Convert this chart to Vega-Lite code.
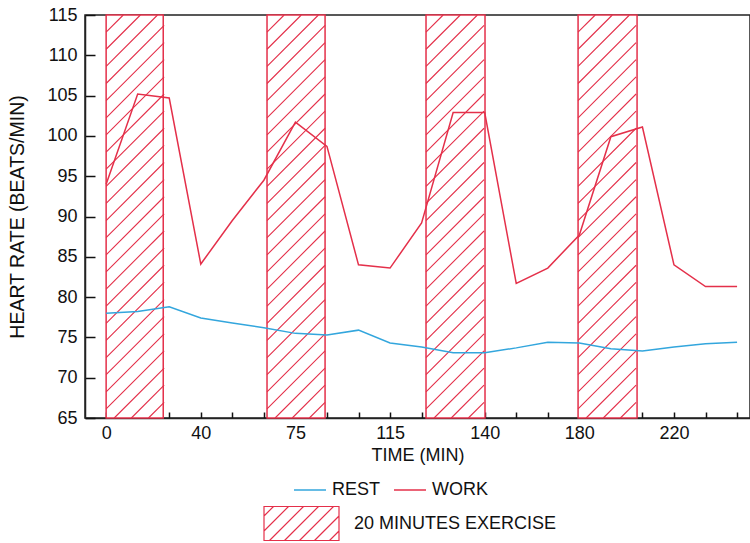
{
  "$schema": "https://vega.github.io/schema/vega-lite/v6.json",
  "width": 665,
  "height": 403,
  "autosize": {"type": "none"},
  "padding": {"left": 85, "top": 15, "right": 0, "bottom": 125},
  "background": "white",
  "config": {
    "font": "Liberation Sans",
    "view": {"stroke": "#222", "strokeWidth": 1.5},
    "axis": {
      "domainColor": "#222", "domainWidth": 1.5,
      "tickColor": "#111", "tickWidth": 1.5,
      "labelColor": "#111", "titleColor": "#111", "zindex": 2,
      "labelOverlap": false, "labelFlush": false,
      "grid": false, "labelFontSize": 18, "titleFontSize": 18, "titleFontWeight": "normal"
    },
    "legend": {"labelFontSize": 18, "labelColor": "#111", "labelLimit": 400}
  },
  "datasets": {
    "hr": [
      {"step": 0, "series": "WORK", "bpm": 94.0},
      {"step": 1, "series": "WORK", "bpm": 105.2},
      {"step": 2, "series": "WORK", "bpm": 104.7},
      {"step": 3, "series": "WORK", "bpm": 84.1},
      {"step": 4, "series": "WORK", "bpm": 89.5},
      {"step": 5, "series": "WORK", "bpm": 94.5},
      {"step": 6, "series": "WORK", "bpm": 101.7},
      {"step": 7, "series": "WORK", "bpm": 98.7},
      {"step": 8, "series": "WORK", "bpm": 84.0},
      {"step": 9, "series": "WORK", "bpm": 83.6},
      {"step": 10, "series": "WORK", "bpm": 89.2},
      {"step": 11, "series": "WORK", "bpm": 102.9},
      {"step": 12, "series": "WORK", "bpm": 102.9},
      {"step": 13, "series": "WORK", "bpm": 81.7},
      {"step": 14, "series": "WORK", "bpm": 83.6},
      {"step": 15, "series": "WORK", "bpm": 87.7},
      {"step": 16, "series": "WORK", "bpm": 99.9},
      {"step": 17, "series": "WORK", "bpm": 101.1},
      {"step": 18, "series": "WORK", "bpm": 84.0},
      {"step": 19, "series": "WORK", "bpm": 81.3},
      {"step": 20, "series": "WORK", "bpm": 81.3},
      {"step": 0, "series": "REST", "bpm": 78.0},
      {"step": 1, "series": "REST", "bpm": 78.2},
      {"step": 2, "series": "REST", "bpm": 78.8},
      {"step": 3, "series": "REST", "bpm": 77.4},
      {"step": 4, "series": "REST", "bpm": 76.8},
      {"step": 5, "series": "REST", "bpm": 76.2},
      {"step": 6, "series": "REST", "bpm": 75.5},
      {"step": 7, "series": "REST", "bpm": 75.3},
      {"step": 8, "series": "REST", "bpm": 75.9},
      {"step": 9, "series": "REST", "bpm": 74.3},
      {"step": 10, "series": "REST", "bpm": 73.8},
      {"step": 11, "series": "REST", "bpm": 73.1},
      {"step": 12, "series": "REST", "bpm": 73.1},
      {"step": 13, "series": "REST", "bpm": 73.7},
      {"step": 14, "series": "REST", "bpm": 74.4},
      {"step": 15, "series": "REST", "bpm": 74.3},
      {"step": 16, "series": "REST", "bpm": 73.6},
      {"step": 17, "series": "REST", "bpm": 73.3},
      {"step": 18, "series": "REST", "bpm": 73.8},
      {"step": 19, "series": "REST", "bpm": 74.2},
      {"step": 20, "series": "REST", "bpm": 74.4}
    ],
    "blocks": [
      {"start": 0, "end": 1.81, "label": "20 MINUTES EXERCISE"},
      {"start": 5.1, "end": 6.94, "label": "20 MINUTES EXERCISE"},
      {"start": 10.14, "end": 12.01, "label": "20 MINUTES EXERCISE"},
      {"start": 14.96, "end": 16.83, "label": "20 MINUTES EXERCISE"}
    ]
  },
  "layer": [
    {
      "data": {"name": "blocks"},
      "mark": {"type": "rect", "stroke": "#e4304a", "strokeWidth": 1.5},
      "encoding": {
        "x": {
          "field": "start", "type": "quantitative", "title": "TIME (MIN)",
          "scale": {"domain": [-0.67, 20.41], "nice": false, "zero": false},
          "axis": {
            "values": [0,1,2,3,4,5,6,7,8,9,10,11,12,13,14,15,16,17,18,19,20],
            "tickCount": 30,
            "labelExpr": "datum.value === 0 ? '0' : datum.value === 3 ? '40' : datum.value === 6 ? '75' : datum.value === 9 ? '115' : datum.value === 12 ? '140' : datum.value === 15 ? '180' : datum.value === 18 ? '220' : ''",
            "tickSize": -6, "labelPadding": 12, "labelFlush": false, "labelOverlap": false,
            "titlePadding": 4
          }
        },
        "x2": {"field": "end"},
        "fill": {
          "field": "label", "type": "nominal",
          "scale": {"range": ["white"]},
          "legend": {
            "title": null, "orient": "none", "legendX": 178, "legendY": 470,
            "symbolType": "M-1,-0.453H1V0.453H-1ZM-1,-0.2L-0.747,-0.453M-1,0.2L-0.347,-0.453M-0.853,0.453L0.053,-0.453M-0.453,0.453L0.453,-0.453M-0.053,0.453L0.853,-0.453M0.347,0.453L1,-0.2M0.747,0.453L1,0.2",
            "symbolSize": 5625, "symbolStrokeColor": "#e4304a", "symbolStrokeWidth": 1.2,
            "labelOffset": 14, "labelFontSize": 18, "labelLimit": 400
          }
        }
      }
    },
    {
      "data": {"name": "blocks"},
      "mark": {
        "type": "point",
        "shape": "M0,-0.915L0.085,-1M0,-0.83L0.17,-1M0,-0.745L0.255,-1M0,-0.66L0.288,-0.948M0,-0.575L0.288,-0.863M0,-0.49L0.288,-0.778M0,-0.405L0.288,-0.693M0,-0.32L0.288,-0.608M0,-0.235L0.288,-0.523M0,-0.15L0.288,-0.438M0,-0.065L0.288,-0.353M0,0.02L0.288,-0.268M0,0.105L0.288,-0.183M0,0.19L0.288,-0.098M0,0.275L0.288,-0.013M0,0.36L0.288,0.072M0,0.445L0.288,0.157M0,0.53L0.288,0.242M0,0.615L0.288,0.327M0,0.7L0.288,0.412M0,0.785L0.288,0.497M0,0.87L0.288,0.582M0,0.955L0.288,0.667M0.04,1L0.288,0.752M0.125,1L0.288,0.837M0.21,1L0.288,0.922",
        "size": 162409, "filled": false, "stroke": "#e4304a", "strokeWidth": 1.1, "opacity": 1
      },
      "encoding": {
        "x": {"field": "start", "type": "quantitative", "title": "TIME (MIN)"},
        "y": {"datum": 90, "type": "quantitative", "title": "HEART RATE (BEATS/MIN)"}
      }
    },
    {
      "data": {"name": "hr"},
      "mark": {"type": "line", "strokeWidth": 1.5},
      "encoding": {
        "x": {"field": "step", "type": "quantitative", "title": "TIME (MIN)"},
        "y": {
          "field": "bpm", "type": "quantitative", "title": "HEART RATE (BEATS/MIN)",
          "scale": {"domain": [65, 115], "nice": false, "zero": false},
          "axis": {
            "values": [65,70,75,80,85,90,95,100,105,110,115],
            "tickCount": 20,
            "tickSize": -10, "labelPadding": 18, "titlePadding": 19, "titleFontSize": 19.5
          }
        },
        "color": {
          "field": "series", "type": "nominal",
          "scale": {"domain": ["REST", "WORK"], "range": ["#33a6dd", "#e4304a"]},
          "legend": {
            "title": null, "orient": "none", "legendX": 208, "legendY": 458,
            "direction": "horizontal", "symbolType": "stroke", "symbolSize": 1024,
            "symbolStrokeWidth": 1.5, "labelOffset": 5, "columnPadding": 10, "labelFontSize": 18
          }
        }
      }
    }
  ]
}
